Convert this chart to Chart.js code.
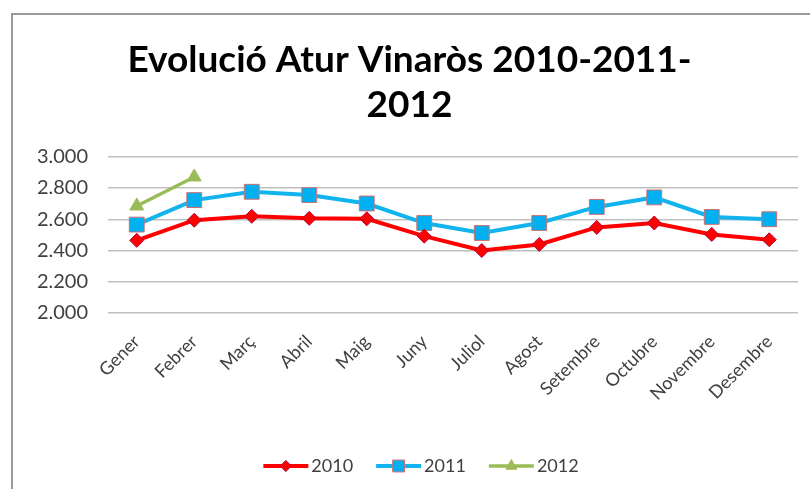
<!DOCTYPE html>
<html>
<head>
<meta charset="utf-8">
<script src="https://cdn.jsdelivr.net/npm/chart.js@4.4.0/dist/chart.umd.min.js"></script>
<style>
  html, body { margin: 0; padding: 0; background: #fff; }
  #wrap { width: 810px; height: 489px; position: relative; }
</style>
</head>
<body>
<div id="wrap"><canvas id="aturChart"></canvas></div>
<script>
// ---- data ----
const months = ['Gener', 'Febrer', 'Març', 'Abril', 'Maig', 'Juny', 'Juliol', 'Agost', 'Setembre', 'Octubre', 'Novembre', 'Desembre'];
const atur2010 = [2465, 2594, 2619, 2606, 2603, 2492, 2400, 2439, 2548, 2576, 2503, 2469];
const atur2011 = [2566, 2723, 2776, 2755, 2701, 2576, 2512, 2576, 2679, 2740, 2615, 2600];
const atur2012 = [2685, 2871];
const yTicks = { min: 2000, max: 3000, step: 200 };
const titleLines = ['Evolució Atur Vinaròs 2010-2011-', '2012'];

const FONT = 'Lato, "Open Sans", sans-serif';
const LEGEND_BOX = 40;

// outer frame like the spreadsheet chart box
const framePlugin = {
    id: 'frame',
    beforeDraw(chart) {
        const ctx = chart.ctx;
        ctx.save();
        ctx.strokeStyle = '#9a9a9a';
        ctx.lineWidth = 2;
        ctx.strokeRect(12, 14, 820, 500);
        ctx.restore();
    },
    // legend sits a bit right of the title in the original
    afterLayout(chart) {
        if (chart.legend) {
            chart.legend.left += 11;
            chart.legend.right += 11;
        }
    }
};

// legend: line segment with the marker in the middle
const legendLinePlugin = {
    id: 'legendLines',
    afterDraw(chart) {
        const legend = chart.legend;
        if (!legend || !legend.legendHitBoxes) return;
        const ctx = chart.ctx;
        legend.legendHitBoxes.forEach((box, i) => {
            const ds = chart.data.datasets[i];
            const x0 = box.left + 1, x1 = box.left + LEGEND_BOX + 6;
            const cy = box.top + box.height / 2;
            ctx.save();
            ctx.strokeStyle = ds.borderColor;
            ctx.lineWidth = ds.borderWidth;
            ctx.beginPath();
            ctx.moveTo(x0, cy);
            ctx.lineTo(x1, cy);
            ctx.stroke();
            ctx.fillStyle = ds.pointBackgroundColor;
            ctx.strokeStyle = ds.pointBorderColor;
            ctx.lineWidth = ds.pointBorderWidth;
            Chart.helpers.drawPoint(ctx, {
                pointStyle: ds.pointStyle,
                radius: ds.pointRadius * 0.8,
                borderWidth: ds.pointBorderWidth,
                rotation: 0
            }, (x0 + x1) / 2, cy);
            ctx.restore();
        });
    }
};

new Chart(document.getElementById('aturChart'), {
    type: 'line',
    data: {
        labels: months,
        datasets: [
            { label: '2010', data: atur2010, borderColor: '#ff0000', borderWidth: 4,
              pointStyle: 'rectRot', pointRadius: 7, pointBackgroundColor: '#ff0000',
              pointBorderColor: '#b0003a', pointBorderWidth: 1, tension: 0 },
            { label: '2011', data: atur2011, borderColor: '#12b4ee', borderWidth: 4,
              pointStyle: 'rect', pointRadius: 10.5, pointBackgroundColor: '#00b0f0',
              pointBorderColor: '#d07070', pointBorderWidth: 1, tension: 0 },
            { label: '2012', data: atur2012, borderColor: '#9bbb59', borderWidth: 3.5,
              pointStyle: 'triangle', pointRadius: 8, pointBackgroundColor: '#9bbb59',
              pointBorderColor: '#9bbb59', pointBorderWidth: 1, tension: 0 }
        ]
    },
    options: {
        responsive: true,
        maintainAspectRatio: false,
        animation: false,
        layout: { padding: { left: 21, right: 12, top: 0, bottom: 4 } },
        plugins: {
            title: {
                display: true,
                text: titleLines,
                color: '#000',
                font: { family: FONT, size: 37, weight: 'bold', lineHeight: 1.2 },
                padding: { top: 38, bottom: 30 }
            },
            legend: {
                position: 'bottom',
                labels: {
                    boxWidth: LEGEND_BOX,
                    boxHeight: 10,
                    padding: 22,
                    color: '#404040',
                    font: { family: FONT, size: 18 },
                    generateLabels(chart) {
                        return chart.data.datasets.map((ds, i) => ({
                            text: ds.label,
                            fillStyle: 'rgba(0,0,0,0)',
                            strokeStyle: 'rgba(0,0,0,0)',
                            lineWidth: 0,
                            datasetIndex: i,
                            hidden: false,
                            fontColor: '#404040'
                        }));
                    }
                }
            },
            tooltip: { enabled: false }
        },
        scales: {
            x: {
                offset: true,
                grid: { display: false, drawTicks: false },
                border: { display: false },
                ticks: {
                    minRotation: 45, maxRotation: 45,
                    padding: 18,
                    color: '#404040',
                    font: { family: FONT, size: 18 }
                },
                afterFit(scale) { scale.height = 122; }
            },
            y: {
                min: yTicks.min,
                max: yTicks.max,
                grid: { color: '#bfbfbf', lineWidth: 1.5, drawTicks: false },
                border: { display: false },
                ticks: {
                    stepSize: yTicks.step,
                    padding: 20,
                    color: '#404040',
                    font: { family: FONT, size: 20 },
                    callback: v => v.toLocaleString('de-DE', { minimumFractionDigits: 0 }).replace(',', '.')
                },
                afterFit(scale) { scale.width = 87; }
            }
        }
    },
    plugins: [framePlugin, legendLinePlugin]
});
</script>
</body>
</html>
